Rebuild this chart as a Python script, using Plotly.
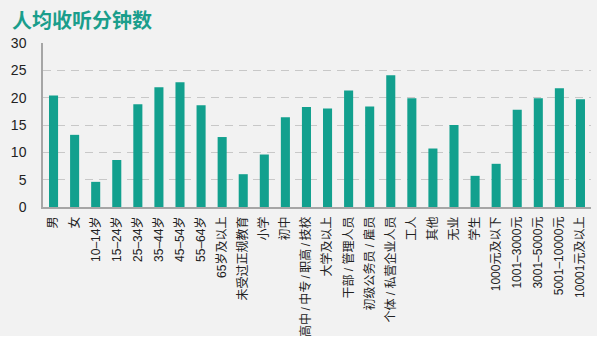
import plotly.graph_objects as go

categories = ["男", "女", "10–14岁", "15–24岁", "25–34岁", "35–44岁", "45–54岁", "55–64岁",
              "65岁及以上", "未受过正规教育", "小学", "初中", "高中\u2009/\u2009中专\u2009/\u2009职高\u2009/\u2009技校", "大学及以上",
              "干部 / 管理人员", "初级公务员 / 雇员", "个体 / 私营企业人员", "工人", "其他", "无业", "学生",
              "1000元及以下", "1001–3000元", "3001–5000元", "5001–10000元", "10001元及以上"]
values = [20.4, 13.2, 4.6, 8.6, 18.8, 21.9, 22.8, 18.6,
          12.8, 6.0, 9.6, 16.4, 18.3, 18.0,
          21.3, 18.4, 24.1, 19.9, 10.7, 15.0, 5.7,
          7.9, 17.8, 19.9, 21.7, 19.7]
y_ticks = [0, 5, 10, 15, 20, 25, 30]
title_text = "人均收听分钟数"

W, H = 600, 338
L, R, T, B = 43, 9, 43, 131

fig = go.Figure(go.Bar(
    x=categories, y=values,
    marker=dict(color="#12a08e", line=dict(width=0)),
    width=0.43,
))

fig.update_layout(
    template="none",
    width=W, height=H,
    margin=dict(l=L, r=R, t=T, b=B, pad=0, autoexpand=False),
    paper_bgcolor="#f2f2f2",
    plot_bgcolor="#f2f2f2",
    showlegend=False,
    font=dict(family="Liberation Sans, Noto Sans CJK SC, sans-serif", color="#222222"),
    bargap=0.57,
)

fig.update_xaxes(
    automargin=False,
    range=[-0.5, len(categories) - 0.5],
    tickangle=-90,
    tickfont=dict(size=12, family="Liberation Sans, Noto Sans CJK SC, sans-serif", color="#222222"),
    showline=True, linecolor="#a6a6a6", linewidth=1.5,
    showgrid=False, ticks="", ticklabelstandoff=3, zeroline=False,
)
fig.update_yaxes(
    automargin=False,
    range=[0, 30],
    tickvals=y_ticks,
    tickfont=dict(size=14, color="#222222"),
    showline=True, linecolor="#a6a6a6", linewidth=1.5,
    showgrid=True, gridcolor="#c8c8c8", gridwidth=1, griddash="8px,6px",
    zeroline=False, ticks="", ticklabelstandoff=12,
)

# title
fig.add_annotation(
    text="<b>" + title_text + "</b>", xref="paper", yref="paper",
    x=(10 - L) / (W - L - R), y=1 + (T - 19) / (H - T - B),
    xanchor="left", yanchor="middle", showarrow=False,
    font=dict(size=20, color="#1a9e8c", family="Noto Sans CJK SC, sans-serif"),
)

# white outer strips (page edge)
pw, ph = W - L - R, H - T - B
fig.add_shape(type="rect", xref="paper", yref="paper",
              x0=(597 - L) / pw, x1=(W - L + 5) / pw, y0=-(B + 5) / ph, y1=1 + (T + 5) / ph,
              fillcolor="white", line=dict(width=0), layer="above")
fig.add_shape(type="rect", xref="paper", yref="paper",
              x0=-(L + 5) / pw, x1=(W - L + 5) / pw, y0=-(B + 5) / ph, y1=-(336 - (T + ph)) / ph,
              fillcolor="white", line=dict(width=0), layer="above")

fig.write_html("out.html")
